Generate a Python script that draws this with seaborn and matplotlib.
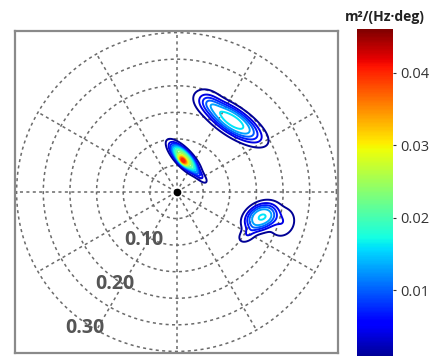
import numpy as np
import matplotlib
matplotlib.use("Agg")
import matplotlib.pyplot as plt
import seaborn as sns

sns.set_style("white")
plt.rcParams["font.family"] = ["Open Sans", "DejaVu Sans"]

# spectral peaks (x, y in Hz, sizes in Hz, angle in deg, peak energy)
peak_x = [0.014, 0.012, 0.040, 0.105, 0.060, 0.159, 0.197, 0.135]
peak_y = [0.064, 0.059, 0.035, 0.134, 0.170, -0.047, -0.056, -0.078]
peak_len = [0.026, 0.007, 0.012, 0.046, 0.015, 0.024, 0.016, 0.012]
peak_wid = [0.0095, 0.0035, 0.004, 0.017, 0.011, 0.017, 0.014, 0.007]
peak_ang = [-47, -47, -47, -34, -34, 30, 70, 40]
peak_amp = [0.026, 0.018, 0.006, 0.017, 0.005, 0.016, 0.004, 0.004]
peak_pow = [1.6, 1.0, 1.0, 1.6, 1.0, 1.6, 1.0, 1.0]

ring_radii = [0.05, 0.10, 0.15, 0.20, 0.25, 0.30]
spoke_angles = [0, 30, 60, 90, 120, 150, 180, 210, 240, 270, 300, 330]
label_radii = [0.10, 0.20, 0.30]
label_text = ["0.10", "0.20", "0.30"]
cbar_ticks = [0, 0.01, 0.02, 0.03, 0.04]
cbar_labels = ["0", "0.01", "0.02", "0.03", "0.04"]
levels = np.arange(0.001, 0.046, 0.003)
vmax = 0.046

# build the directional spectrum on a grid
grid = np.linspace(-0.31, 0.31, 500)
X, Y = np.meshgrid(grid, grid)
Z = np.zeros_like(X)
for x0, y0, a, b, ang, amp, p in zip(peak_x, peak_y, peak_len, peak_wid,
                                     peak_ang, peak_amp, peak_pow):
    t = np.deg2rad(ang)
    u = (X - x0) * np.cos(t) + (Y - y0) * np.sin(t)
    v = -(X - x0) * np.sin(t) + (Y - y0) * np.cos(t)
    s2 = (u / a) ** 2 + (v / b) ** 2
    Z += amp * np.exp(-0.5 * s2 ** p)

cmap = matplotlib.colormaps["jet"]
norm = plt.Normalize(0, vmax)

fig = plt.figure(figsize=(4.44, 3.56), dpi=100)
ax = fig.add_axes([0.0338, 0.0084, 0.7275, 0.9045])
lim = 0.303

# polar grid
th = np.linspace(0, 2 * np.pi, 400)
for r in ring_radii:
    ax.plot(r * np.cos(th), r * np.sin(th), color="#6a6a6a", lw=1.1,
            ls=(0, (2, 2.2)), zorder=1)
for a in spoke_angles:
    t = np.deg2rad(a)
    ax.plot([0, 0.30 * np.cos(t)], [0, 0.30 * np.sin(t)], color="#6a6a6a",
            lw=1.1, ls=(0, (2, 2.2)), zorder=1)

ax.contour(X, Y, Z, levels=levels, cmap=cmap, norm=norm, linewidths=1.4,
           zorder=3)
ax.plot([0], [0], "o", color="black", ms=4.5, zorder=4)

for r, txt in zip(label_radii, label_text):
    t = np.deg2rad(-124)
    ax.text((r + 0.008) * np.cos(t), (r + 0.008) * np.sin(t), txt,
            ha="center", va="center", fontsize=14, fontweight="bold",
            color="#555555", zorder=5)

ax.set_xlim(-lim, lim)
ax.set_ylim(-lim, lim)
ax.set_aspect("auto")
ax.set_xticks([])
ax.set_yticks([])
for sp in ax.spines.values():
    sp.set_color("#8a8a8a")
    sp.set_linewidth(1.6)

# colorbar
cax = fig.add_axes([0.804, -0.0197, 0.081, 0.938])
sm = plt.cm.ScalarMappable(norm=norm, cmap=cmap)
cb = fig.colorbar(sm, cax=cax)
cb.set_ticks(cbar_ticks)
cb.set_ticklabels(cbar_labels)
cb.outline.set_visible(False)
cax.tick_params(labelsize=10.5, colors="#333333", length=2, width=0.8)
fig.text(0.867, 0.952, "m²/(Hz·deg)", ha="center", va="center",
         fontsize=10, fontweight="bold", color="#222222")

fig.savefig("out.png", dpi=100)
